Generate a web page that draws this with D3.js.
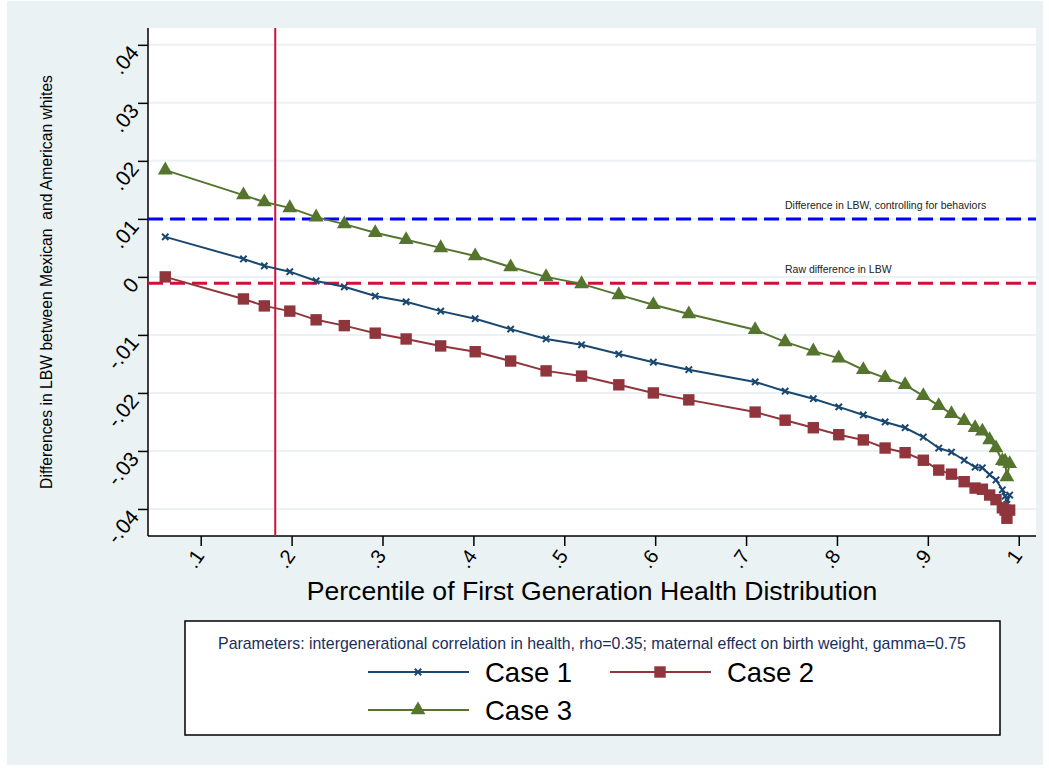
<!DOCTYPE html>
<html>
<head>
<meta charset="utf-8">
<script src="https://cdn.jsdelivr.net/npm/d3@7"></script>
<style>
  body { margin: 0; background: #fff; }
  text { font-family: Arial, "Liberation Sans", sans-serif; }
</style>
</head>
<body>
<div id="chart"></div>
<script>
// percentile points (shared by all three cases)
var pct = [0.061, 0.147, 0.170, 0.198, 0.227, 0.258, 0.292, 0.326, 0.364, 0.402,
           0.441, 0.480, 0.519, 0.560, 0.598, 0.637, 0.710, 0.743, 0.774, 0.802,
           0.829, 0.853, 0.875, 0.895, 0.912, 0.926, 0.940, 0.952, 0.960, 0.968,
           0.975, 0.982, 0.985, 0.987, 0.990];

var case1 = [0.0069, 0.0031, 0.0019, 0.0009, -0.0007, -0.0017, -0.0033, -0.0043, -0.0059, -0.0072,
             -0.0090, -0.0107, -0.0117, -0.0133, -0.0147, -0.0160, -0.0181, -0.0197, -0.0210, -0.0224,
             -0.0238, -0.0250, -0.0260, -0.0276, -0.0295, -0.0302, -0.0316, -0.0328, -0.0329, -0.0341,
             -0.0350, -0.0367, -0.0378, -0.0392, -0.0376];

var case2 = [0.0000, -0.0038, -0.0050, -0.0059, -0.0074, -0.0084, -0.0097, -0.0107, -0.0119, -0.0129,
             -0.0145, -0.0162, -0.0171, -0.0186, -0.0200, -0.0212, -0.0233, -0.0247, -0.0260, -0.0272,
             -0.0281, -0.0295, -0.0303, -0.0316, -0.0333, -0.0340, -0.0353, -0.0364, -0.0366, -0.0376,
             -0.0384, -0.0398, -0.0402, -0.0416, -0.0402];

var case3 = [0.0184, 0.0141, 0.0129, 0.0119, 0.0103, 0.0091, 0.0076, 0.0064, 0.0050, 0.0036,
             0.0017, 0.0000, -0.0012, -0.0031, -0.0048, -0.0064, -0.0091, -0.0112, -0.0128, -0.0140,
             -0.0160, -0.0174, -0.0186, -0.0205, -0.0222, -0.0236, -0.0248, -0.0260, -0.0266, -0.0281,
             -0.0295, -0.0317, -0.0318, -0.0345, -0.0322];

var xTicks = [0.1, 0.2, 0.3, 0.4, 0.5, 0.6, 0.7, 0.8, 0.9, 1];
var xTickLabels = [".1", ".2", ".3", ".4", ".5", ".6", ".7", ".8", ".9", "1"];
var yTicks = [-0.04, -0.03, -0.02, -0.01, 0, 0.01, 0.02, 0.03, 0.04];
var yTickLabels = ["-.04", "-.03", "-.02", "-.01", "0", ".01", ".02", ".03", ".04"];

var refLines = [0.01, -0.0011];
var refLabels = ["Difference in LBW, controlling for behaviors", "Raw difference in LBW"];
var cutoff = 0.182;

var seriesNames = ["Case 1", "Case 2", "Case 3"];
var note = "Parameters: intergenerational correlation in health, rho=0.35; maternal effect on birth weight, gamma=0.75";

var colors = ["#1a476f", "#90353b", "#55752f"];

var W = 1049, H = 768;
var margin = {top: 28, right: 13, bottom: 232, left: 148};
var width = W - margin.left - margin.right,
    height = H - margin.top - margin.bottom;

var svg = d3.select("#chart").append("svg")
  .attr("width", W).attr("height", H);

// outer panel
svg.append("rect").attr("x", 7).attr("y", 1).attr("width", 1036).attr("height", 764)
  .attr("fill", "#eaf2f3");

var g = svg.append("g")
  .attr("transform", "translate(" + margin.left + "," + margin.top + ")");

g.append("rect").attr("width", width).attr("height", height).attr("fill", "#fff");

var x = d3.scaleLinear().domain([0.042, 1.019]).range([0, width]);
var y = d3.scaleLinear().domain([-0.04466, 0.0429]).range([height, 0]);

// gridlines
g.selectAll(".grid").data(yTicks).enter().append("line")
  .attr("x1", 0).attr("x2", width)
  .attr("y1", function(d) { return y(d); }).attr("y2", function(d) { return y(d); })
  .attr("stroke", "#eaf2f3").attr("stroke-width", 2);

// y axis
var yAxis = g.append("g")
  .call(d3.axisLeft(y).tickValues(yTicks).tickSize(10)
    .tickFormat(function(d, i) { return yTickLabels[i]; }));
yAxis.select(".domain").attr("stroke", "#000").attr("stroke-width", 1.5)
  .attr("d", "M0,0V" + height);
yAxis.selectAll(".tick line").attr("stroke", "#000").attr("stroke-width", 1.5);
yAxis.selectAll(".tick text")
  .attr("x", null).attr("dy", null)
  .attr("text-anchor", "end")
  .attr("transform", "translate(-8,8) rotate(-50)")
  .attr("font-size", 21).attr("fill", "#000");

// x axis
var xAxis = g.append("g")
  .attr("transform", "translate(0," + height + ")")
  .call(d3.axisBottom(x).tickValues(xTicks).tickSize(10)
    .tickFormat(function(d, i) { return xTickLabels[i]; }));
xAxis.select(".domain").attr("stroke", "#000").attr("stroke-width", 1.5)
  .attr("d", "M0,0H" + width);
xAxis.selectAll(".tick line").attr("stroke", "#000").attr("stroke-width", 1.5);
xAxis.selectAll(".tick text")
  .attr("y", null).attr("dy", null)
  .attr("text-anchor", "end")
  .attr("transform", "translate(4,20) rotate(-55)")
  .attr("font-size", 20).attr("fill", "#000");

// reference lines
var refColors = ["#0000ff", "#d0103a"];
refLines.forEach(function(v, i) {
  g.append("line")
    .attr("x1", 0).attr("x2", width).attr("y1", y(v)).attr("y2", y(v))
    .attr("stroke", refColors[i]).attr("stroke-width", 3)
    .attr("stroke-dasharray", "15,7");
  g.append("text")
    .attr("x", 637).attr("y", y(v) - 10)
    .attr("font-size", 10.5).attr("fill", "#222")
    .text(refLabels[i]);
});

// vertical cutoff line
g.append("line")
  .attr("x1", x(cutoff)).attr("x2", x(cutoff)).attr("y1", 0).attr("y2", height)
  .attr("stroke", "#d0103a").attr("stroke-width", 2);

// series
var allSeries = [case1, case2, case3];
var line = d3.line()
  .x(function(d, i) { return x(pct[i]); })
  .y(function(d) { return y(d); });

var triangle = d3.symbol().type(d3.symbolTriangle).size(95);
var square = d3.symbol().type(d3.symbolSquare).size(130);
var cross = d3.symbol().type(d3.symbolTimes).size(28);
var shapes = [cross, square, triangle];

allSeries.forEach(function(vals, s) {
  g.append("path")
    .datum(vals)
    .attr("fill", "none")
    .attr("stroke", colors[s])
    .attr("stroke-width", 2)
    .attr("d", line);
  g.selectAll(".m" + s).data(vals).enter().append("path")
    .attr("transform", function(d, i) { return "translate(" + x(pct[i]) + "," + y(d) + ")"; })
    .attr("d", shapes[s])
    .attr("fill", colors[s])
    .attr("stroke", colors[s])
    .attr("stroke-width", s === 0 ? 2 : 0);
});

// axis titles
svg.append("text")
  .attr("x", 592).attr("y", 600)
  .attr("text-anchor", "middle").attr("font-size", 26.6).attr("fill", "#000")
  .text("Percentile of First Generation Health Distribution");

svg.append("text")
  .attr("transform", "translate(52,282) rotate(-90)")
  .attr("text-anchor", "middle").attr("font-size", 15.7).attr("fill", "#000")
  .attr("xml:space", "preserve")
  .text("Differences in LBW between Mexican  and American whites");

// legend
var leg = svg.append("g");
leg.append("rect").attr("x", 185).attr("y", 621).attr("width", 815).attr("height", 114)
  .attr("fill", "#fff").attr("stroke", "#000").attr("stroke-width", 1.5);
leg.append("text").attr("x", 592).attr("y", 649).attr("text-anchor", "middle")
  .attr("font-size", 15.9).attr("fill", "#1a2e5a").text(note);

var legPos = [[368, 672], [610, 672], [368, 710]];
seriesNames.forEach(function(name, s) {
  var p = legPos[s];
  leg.append("line").attr("x1", p[0]).attr("x2", p[0] + 101)
    .attr("y1", p[1]).attr("y2", p[1])
    .attr("stroke", colors[s]).attr("stroke-width", 2);
  leg.append("path").attr("transform", "translate(" + (p[0] + 50) + "," + p[1] + ")")
    .attr("d", shapes[s]).attr("fill", colors[s]).attr("stroke", colors[s])
    .attr("stroke-width", s === 0 ? 2 : 0);
  leg.append("text").attr("x", p[0] + 117).attr("y", p[1] + 10)
    .attr("font-size", 27.5).attr("fill", "#000").text(name);
});
</script>
</body>
</html>
